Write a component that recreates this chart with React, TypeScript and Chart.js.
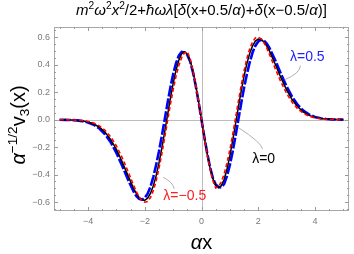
import React, { useEffect, useRef } from 'react';
import { Chart, registerables } from 'chart.js';

Chart.register(...registerables);

// ---- data ----
const X_VALUES = [
  -5, -4.8, -4.6, -4.4, -4.2, -4, -3.8, -3.6, -3.4, -3.2, -3, -2.8, -2.6,
  -2.4, -2.3, -2.2, -2.1, -2, -1.9, -1.8, -1.7, -1.6, -1.5, -1.4, -1.3, -1.2, -1.1, -1,
  -0.9, -0.8, -0.7, -0.6, -0.5, -0.4, -0.3, -0.2, -0.1, 0,
  0.1, 0.2, 0.3, 0.4, 0.5, 0.6, 0.7, 0.8, 0.9, 1, 1.1, 1.2, 1.3, 1.4, 1.5, 1.6, 1.7,
  1.8, 1.9, 2, 2.1, 2.2, 2.3, 2.4,
  2.6, 2.8, 3, 3.2, 3.4, 3.6, 3.8, 4, 4.2, 4.4, 4.6, 4.8, 5,
];

// lambda = 0 (black)
const V3_LAMBDA_ZERO = [
  -0.0004, -0.0009, -0.002, -0.0043, -0.0087, -0.0169, -0.0312, -0.0549, -0.0916, -0.145, -0.2168, -0.3055, -0.4039,
  -0.4977, -0.5368, -0.5667, -0.5846, -0.5867, -0.572, -0.5376, -0.4831, -0.4089, -0.3168, -0.2096, -0.092, 0.0304, 0.1511, 0.263,
  0.3593, 0.4333, 0.48, 0.4955, 0.4784, 0.4291, 0.3507, 0.2482, 0.1286, 0,
  -0.1286, -0.2482, -0.3507, -0.4291, -0.4784, -0.4955, -0.48, -0.4333, -0.3593, -0.263, -0.1511, -0.0304, 0.092, 0.2096, 0.3168, 0.4089, 0.4831,
  0.5376, 0.572, 0.5867, 0.5846, 0.5667, 0.5368, 0.4977,
  0.4039, 0.3055, 0.2168, 0.145, 0.0916, 0.0549, 0.0312, 0.0169, 0.0087, 0.0043, 0.002, 0.0009, 0.0004,
];

// lambda = 0.5 (blue)
const V3_LAMBDA_POS = [
  -0.0005, -0.0011, -0.0025, -0.0052, -0.0105, -0.02, -0.037, -0.064, -0.106, -0.165, -0.242, -0.334, -0.432,
  -0.521, -0.555, -0.576, -0.582, -0.57, -0.539, -0.489, -0.418, -0.331, -0.232, -0.12, -0.002, 0.118, 0.231, 0.33,
  0.41, 0.467, 0.493, 0.49, 0.472, 0.424, 0.345, 0.243, 0.125, 0,
  -0.125, -0.243, -0.345, -0.424, -0.472, -0.49, -0.493, -0.467, -0.41, -0.33, -0.231, -0.118, 0.002, 0.12, 0.232, 0.331, 0.418,
  0.489, 0.539, 0.57, 0.582, 0.576, 0.555, 0.521,
  0.432, 0.334, 0.242, 0.165, 0.106, 0.064, 0.037, 0.02, 0.0105, 0.0052, 0.0025, 0.0011, 0.0005,
];

// lambda = -0.5 (red, dashed)
const V3_LAMBDA_NEG = [
  -0.0003, -0.0006, -0.0014, -0.003, -0.0064, -0.013, -0.025, -0.045, -0.077, -0.125, -0.191, -0.275, -0.372,
  -0.474, -0.522, -0.562, -0.589, -0.601, -0.596, -0.567, -0.517, -0.446, -0.355, -0.25, -0.133, -0.012, 0.108, 0.219,
  0.315, 0.394, 0.452, 0.487, 0.497, 0.443, 0.36, 0.253, 0.13, 0,
  -0.13, -0.253, -0.36, -0.443, -0.497, -0.487, -0.452, -0.394, -0.315, -0.219, -0.108, 0.012, 0.133, 0.25, 0.355, 0.446, 0.517,
  0.567, 0.596, 0.601, 0.589, 0.562, 0.522, 0.474,
  0.372, 0.275, 0.191, 0.125, 0.077, 0.045, 0.025, 0.013, 0.0064, 0.003, 0.0014, 0.0006, 0.0003,
];

const X_TICKS = [-4, -2, 0, 2, 4];
const X_MINOR_TICKS = [-5, -4.5, -3.5, -3, -2.5, -1.5, -1, -0.5, 0.5, 1, 1.5, 2.5, 3, 3.5, 4.5, 5];
const Y_TICKS = [-0.6, -0.4, -0.2, 0, 0.2, 0.4, 0.6];
const Y_MINOR_TICKS = [
  -0.65, -0.55, -0.5, -0.45, -0.35, -0.3, -0.25, -0.15, -0.1, -0.05,
  0.05, 0.1, 0.15, 0.25, 0.3, 0.35, 0.45, 0.5, 0.55, 0.65,
];

const CURVE_LABELS = [
  { text: 'λ=0.5', color: '#1f1fff', x: 3.73, y: 0.458 },
  { text: 'λ=0', color: '#000000', x: 2.19, y: -0.29 },
  { text: 'λ=−0.5', color: '#ff1f1f', x: -0.59, y: -0.56 },
];
const LEADERS = [
  [[2.93, 0.291], [3.46, 0.335], [3.49, 0.393]],
  [[1.29, -0.056], [2.11, -0.165], [2.15, -0.213]],
  [[-1.35, -0.42], [-1.0, -0.456], [-0.96, -0.504]],
];

const X_MIN = -5.2;
const X_MAX = 5.2;
const Y_MIN = -0.665;
const Y_MAX = 0.675;

const FAMILY = '"Liberation Sans", Arial, sans-serif';

type Seg = { t: string; it?: boolean; sup?: boolean; sub?: boolean };

const TITLE_SEGS: Seg[] = [
  { t: 'm', it: true }, { t: '2', sup: true },
  { t: 'ω', it: true }, { t: '2', sup: true },
  { t: 'x', it: true }, { t: '2', sup: true },
  { t: '/2+' },
  { t: 'ħωλ', it: true },
  { t: '[' }, { t: 'δ', it: true }, { t: '(x+0.5/' }, { t: 'α', it: true },
  { t: ')+' }, { t: 'δ', it: true }, { t: '(x−0.5/' }, { t: 'α', it: true }, { t: ')]' },
];
const Y_TITLE_SEGS: Seg[] = [
  { t: 'α', it: true }, { t: '−1/2', sup: true }, { t: 'v' }, { t: '3', sub: true }, { t: '(x)' },
];
const X_TITLE_SEGS: Seg[] = [{ t: 'α', it: true }, { t: 'x' }];

function segFont(s: Seg, size: number) {
  const sz = s.sup || s.sub ? size * 0.68 : size;
  return `${s.it ? 'italic ' : ''}${sz}px ${FAMILY}`;
}
function richWidth(ctx: CanvasRenderingContext2D, segs: Seg[], size: number) {
  let w = 0;
  for (const s of segs) {
    ctx.font = segFont(s, size);
    w += ctx.measureText(s.t).width;
  }
  return w;
}
function drawRich(ctx: CanvasRenderingContext2D, segs: Seg[], cx: number, base: number, size: number, color: string) {
  const w = richWidth(ctx, segs, size);
  let x = cx - w / 2;
  ctx.fillStyle = color;
  ctx.textAlign = 'left';
  ctx.textBaseline = 'alphabetic';
  for (const s of segs) {
    ctx.font = segFont(s, size);
    const dy = s.sup ? -size * 0.4 : s.sub ? size * 0.22 : 0;
    ctx.fillText(s.t, x, base + dy);
    x += ctx.measureText(s.t).width;
  }
}

const decorPlugin = {
  id: 'decor',
  beforeDatasetsDraw(chart: any) {
    const { ctx, chartArea: a, scales } = chart;
    const xs = scales.x;
    const ys = scales.y;
    ctx.save();
    ctx.strokeStyle = '#bdbdbd';
    ctx.lineWidth = 1;
    const x0 = Math.round(xs.getPixelForValue(0)) + 0.5;
    const y0 = Math.round(ys.getPixelForValue(0)) + 0.5;
    ctx.beginPath();
    ctx.moveTo(x0, a.top);
    ctx.lineTo(x0, a.bottom);
    ctx.moveTo(a.left, y0);
    ctx.lineTo(a.right, y0);
    ctx.stroke();
    ctx.restore();
  },
  afterDatasetsDraw(chart: any) {
    const { ctx, chartArea: a, scales } = chart;
    const xs = scales.x;
    const ys = scales.y;
    ctx.save();
    ctx.strokeStyle = '#a8a8a8';
    ctx.lineWidth = 1;
    ctx.strokeRect(a.left + 0.5, a.top + 0.5, a.right - a.left - 1, a.bottom - a.top - 1);
    ctx.strokeStyle = '#9a9a9a';
    ctx.beginPath();
    const xt = (v: number, len: number) => {
      const p = Math.round(xs.getPixelForValue(v)) + 0.5;
      ctx.moveTo(p, a.bottom);
      ctx.lineTo(p, a.bottom - len);
      ctx.moveTo(p, a.top);
      ctx.lineTo(p, a.top + len);
    };
    const yt = (v: number, len: number) => {
      const p = Math.round(ys.getPixelForValue(v)) + 0.5;
      ctx.moveTo(a.left, p);
      ctx.lineTo(a.left + len, p);
      ctx.moveTo(a.right, p);
      ctx.lineTo(a.right - len, p);
    };
    X_TICKS.forEach((v) => xt(v, 4));
    X_MINOR_TICKS.forEach((v) => xt(v, 2));
    Y_TICKS.forEach((v) => yt(v, 4));
    Y_MINOR_TICKS.forEach((v) => yt(v, 2));
    ctx.stroke();

    // leader lines
    ctx.strokeStyle = '#b0b0b0';
    ctx.lineWidth = 1;
    for (const l of LEADERS) {
      const p = l.map(([vx, vy]) => [xs.getPixelForValue(vx), ys.getPixelForValue(vy)]);
      ctx.beginPath();
      ctx.moveTo(p[0][0], p[0][1]);
      ctx.quadraticCurveTo(p[1][0], p[1][1], p[2][0], p[2][1]);
      ctx.stroke();
    }
    // curve labels
    ctx.textAlign = 'center';
    ctx.textBaseline = 'middle';
    ctx.font = `14px ${FAMILY}`;
    for (const lb of CURVE_LABELS) {
      ctx.fillStyle = lb.color;
      ctx.fillText(lb.text, xs.getPixelForValue(lb.x), ys.getPixelForValue(lb.y));
    }
    ctx.restore();
  },
  afterDraw(chart: any) {
    const { ctx, chartArea: a } = chart;
    ctx.save();
    // top title, fitted to the reference width
    const w14 = richWidth(ctx, TITLE_SEGS, 14);
    const tsize = Math.min(15, (14 * 252) / w14);
    drawRich(ctx, TITLE_SEGS, (a.left + a.right) / 2, 14.5, tsize, '#000');
    // x axis title
    drawRich(ctx, X_TITLE_SEGS, (a.left + a.right) / 2, 249, 20, '#000');
    // y axis title (rotated)
    ctx.translate(25, 125);
    ctx.rotate(-Math.PI / 2);
    drawRich(ctx, Y_TITLE_SEGS, 0, 0, 20, '#000');
    ctx.restore();
  },
};

function fmtY(v: number) {
  const s = Math.abs(v).toFixed(1);
  return v < -1e-9 ? '−' + s : s;
}
function fmtX(v: number) {
  const s = String(Math.abs(Math.round(v)));
  return v < -1e-9 ? '−' + s : s;
}

export default function App() {
  const ref = useRef<HTMLCanvasElement | null>(null);
  useEffect(() => {
    if (!ref.current) return;
    const mk = (arr: number[]) => X_VALUES.map((x, i) => ({ x, y: arr[i] }));
    const chart = new Chart(ref.current, {
      type: 'line',
      data: {
        datasets: [
          {
            label: 'λ=−0.5',
            data: mk(V3_LAMBDA_NEG),
            borderColor: '#ff0000',
            borderWidth: 1.6,
            borderDash: [4, 2.5],
            pointRadius: 0,
            tension: 0,
            fill: false,
          },
          {
            label: 'λ=0',
            data: mk(V3_LAMBDA_ZERO),
            borderColor: '#000000',
            borderWidth: 1.5,
            pointRadius: 0,
            tension: 0,
            fill: false,
          },
          {
            label: 'λ=0.5',
            data: mk(V3_LAMBDA_POS),
            borderColor: '#0000ff',
            borderWidth: 2.6,
            borderDash: [11, 2],
            pointRadius: 0,
            tension: 0,
            fill: false,
          },
        ],
      },
      options: {
        responsive: false,
        animation: false,
        devicePixelRatio: 1,
        layout: { padding: { top: 27, right: 5, left: 0, bottom: 0 } },
        plugins: {
          legend: { display: false },
          title: { display: false },
          tooltip: { enabled: false },
        },
        scales: {
          x: {
            type: 'linear',
            min: X_MIN,
            max: X_MAX,
            grid: { display: false, drawTicks: false },
            border: { display: false },
            ticks: {
              color: '#7a7a7a',
              font: { size: 9, family: FAMILY },
              padding: 5,
              maxRotation: 0,
              autoSkip: false,
              callback: (v: any) => fmtX(Number(v)),
            },
            afterBuildTicks: (s: any) => {
              s.ticks = X_TICKS.map((v) => ({ value: v }));
            },
            afterFit: (s: any) => {
              s.height = 43;
            },
          },
          y: {
            type: 'linear',
            min: Y_MIN,
            max: Y_MAX,
            grid: { display: false, drawTicks: false },
            border: { display: false },
            ticks: {
              color: '#7a7a7a',
              font: { size: 9, family: FAMILY },
              padding: 4,
              autoSkip: false,
              callback: (v: any) => fmtY(Number(v)),
            },
            afterBuildTicks: (s: any) => {
              s.ticks = Y_TICKS.map((v) => ({ value: v }));
            },
            afterFit: (s: any) => {
              s.width = 54;
            },
          },
        },
      },
      plugins: [decorPlugin],
    });
    return () => chart.destroy();
  }, []);
  return (
    <div style={{ position: 'fixed', left: 0, top: 0, width: 354, height: 254, background: '#fff' }}>
      <canvas ref={ref} width={354} height={254} style={{ display: 'block', width: 354, height: 254 }} />
    </div>
  );
}
